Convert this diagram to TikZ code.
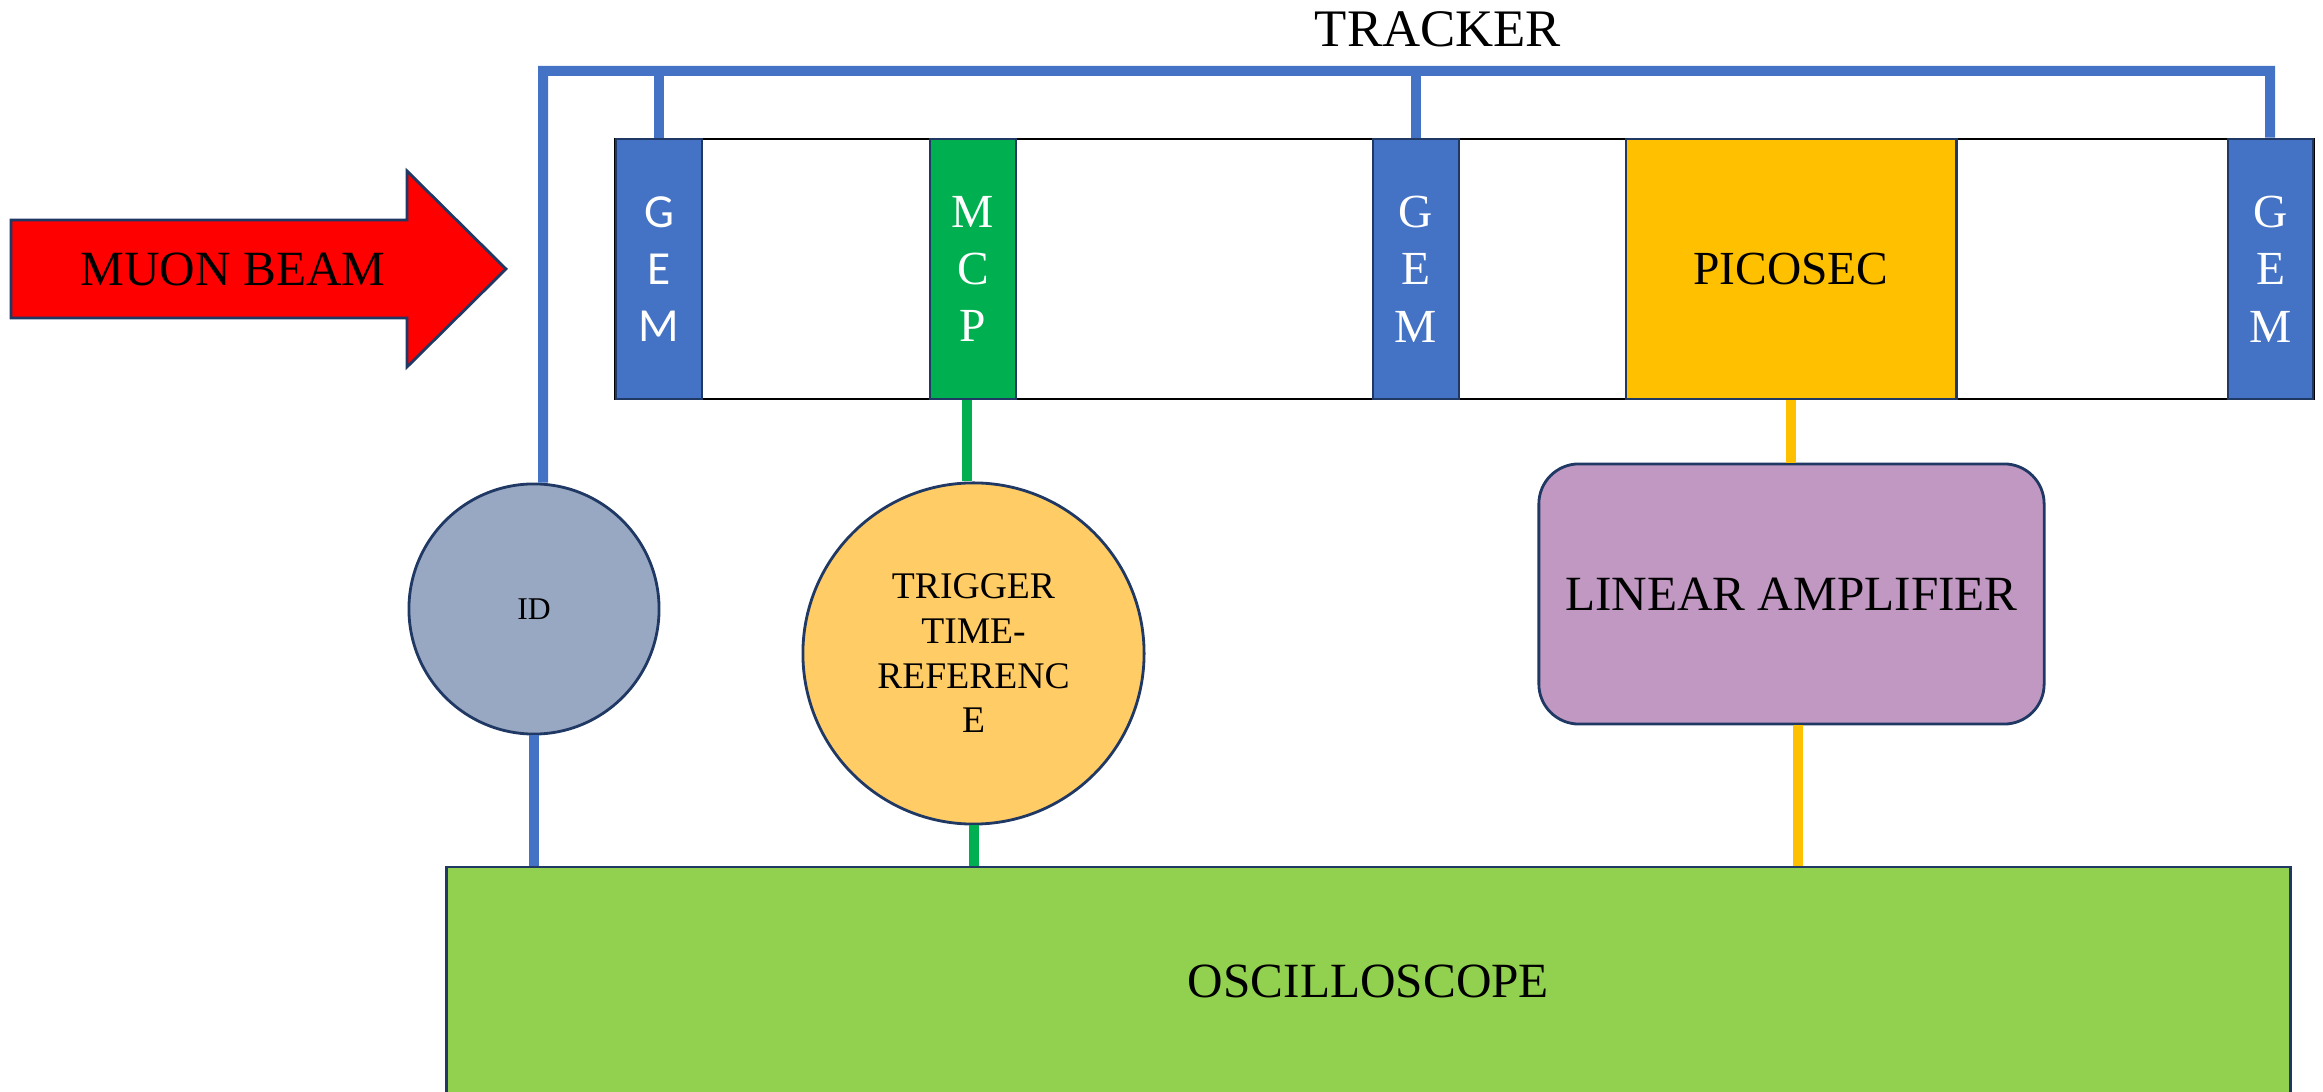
\documentclass[tikz,border=0pt]{standalone}
\usepackage{fontspec}
\setmainfont{Liberation Serif}
\newfontfamily\calfont{Carlito}
\definecolor{navy}{HTML}{1F3864}
\definecolor{gemblue}{HTML}{4472C4}
\definecolor{mcpgreen}{HTML}{00B050}
\definecolor{picogold}{HTML}{FFC000}
\definecolor{idgray}{HTML}{98A8C2}
\definecolor{trigorange}{HTML}{FFCC66}
\definecolor{ampviolet}{HTML}{C198C2}
\definecolor{oscgreen}{HTML}{92D050}
\definecolor{beamred}{HTML}{FF0000}
\begin{document}
\begin{tikzpicture}[x=0.01cm,y=-0.01cm,
  bdr/.style={draw=navy,line width=0.8pt},
  stripbox/.style={bdr,minimum width=0.86cm,minimum height=2.6cm,inner sep=0pt,
     align=center,text=white,font=\fontsize{13.5}{16.3}\selectfont},
  lbl/.style={font=\fontsize{14}{17}\selectfont,text=black},
  wire/.style={line width=0.1cm},
  bwire/.style={wire,draw=gemblue},
  gwire/.style={wire,draw=mcpgreen},
  ywire/.style={wire,draw=picogold}]
\useasboundingbox (0,0) rectangle (2323,1092);

% title
\node[font=\fontsize{15}{18}\selectfont] (title) at (1438,29) {TRACKER};

% beam arrow
\draw[bdr,fill=beamred] (11,220) -- (407,220) -- (407,171) -- (506,269) -- (407,367) -- (407,318) -- (11,318) -- cycle;
\node[lbl] (beam) at (233,269) {MUON BEAM};

% tracker frame
\node[draw=black,line width=0.7pt,minimum width=16.97cm,minimum height=2.6cm,inner sep=0pt] (tracker) at (1464.5,269) {};

% detectors
\node[stripbox,fill=gemblue,font=\calfont\fontsize{13.5}{16.3}\selectfont] (gem1) at (659,269) {G\\E\\M};
\node[stripbox,fill=mcpgreen] (mcp) at (973,269) {M\\C\\P};
\node[stripbox,fill=gemblue] (gem2) at (1416,269) {G\\E\\M};
\node[stripbox,fill=picogold,minimum width=3.3cm,text=black,font=\fontsize{13.5}{16.3}\selectfont] (pico) at (1791,269) {PICOSEC};
\node[stripbox,fill=gemblue,minimum width=0.85cm] (gem3) at (2270.5,269) {G\\E\\M};

% lower blocks
\node[bdr,circle,fill=idgray,minimum size=2.5cm,inner sep=0pt,font=\fontsize{9}{11}\selectfont] (id) at (534,609) {ID};
\node[bdr,circle,fill=trigorange,minimum size=3.41cm,inner sep=0pt,align=center,font=\fontsize{10.7}{12.7}\selectfont] (trig) at (973.5,653.5) {TRIGGER\\TIME-\\REFERENC\\E};
\node[bdr,rounded corners=0.4cm,fill=ampviolet,minimum width=5.05cm,minimum height=2.6cm,inner sep=0pt,lbl] (amp) at (1791.5,594) {LINEAR AMPLIFIER};
\node[bdr,fill=oscgreen,minimum width=18.43cm,minimum height=2.28cm,inner sep=0pt,lbl] (osc) at (1368.5,981) {OSCILLOSCOPE};

% tracker bus
\coordinate (busl) at (543,71);
\coordinate (busr) at (2270,71);
\coordinate (idtop) at ([xshift=0.09cm]id.north);
\draw[bwire] (idtop) -- (busl) -- (busr) -- (gem3.north -| busr);
\draw[bwire] (gem1.north |- busl) -- (gem1.north);
\draw[bwire] (gem2.north |- busl) -- (gem2.north);

% signal lines
\coordinate (mcpout) at ([xshift=-0.06cm]mcp.south);
\coordinate (ampout) at ([xshift=0.065cm]amp.south);
\draw[bwire] (id.south) -- (id.south |- osc.north);
\draw[gwire] (mcpout) -- (mcpout |- trig.north);
\draw[gwire] (trig.south) -- (trig.south |- osc.north);
\draw[ywire] (pico.south) -- (pico.south |- amp.north);
\draw[ywire] (ampout) -- (ampout |- osc.north);
\end{tikzpicture}
\end{document}
